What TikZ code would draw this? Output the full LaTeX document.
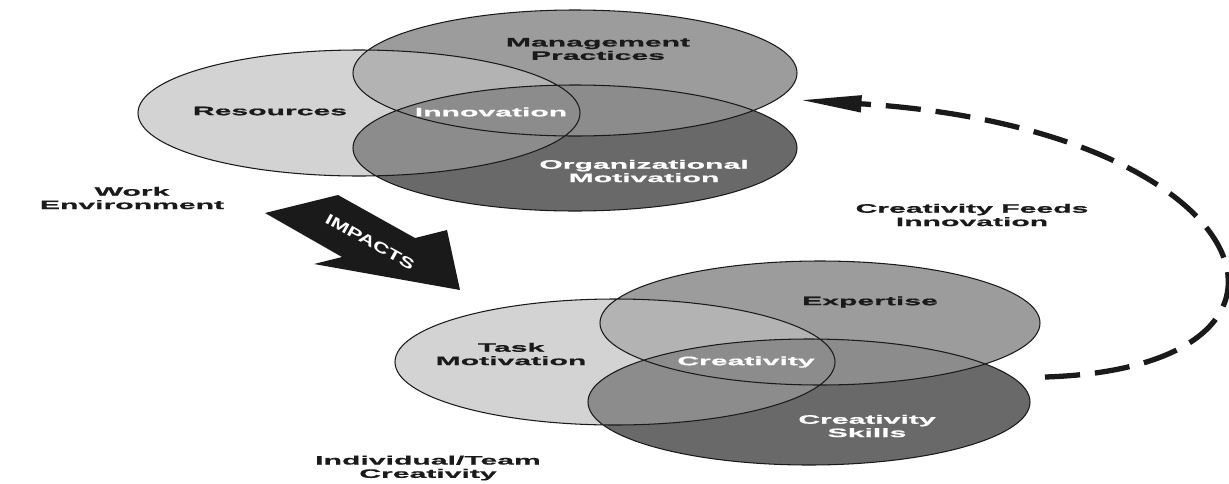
\documentclass[tikz,border=0pt]{standalone}
\usepackage{fontspec}
\usetikzlibrary{arrows.meta}
\newfontfamily\vennfont[FakeStretch=2.45,FakeBold=0.8]{Liberation Sans}
\newfontfamily\arrowfont[FakeStretch=1.5]{Liberation Sans}
\definecolor{ink}{HTML}{1A1A1A}
\definecolor{paleshade}{HTML}{D3D3D3}
\definecolor{lapshade}{HTML}{B3B3B3}
\definecolor{midshade}{HTML}{9C9C9C}
\definecolor{mixshade}{HTML}{8C8C8C}
\definecolor{darkshade}{HTML}{696969}

% top group: work environment
\newcommand{\resarea}{(7.18,-2.26) ellipse [x radius=4.42, y radius=1.26]}
\newcommand{\mgmtarea}{(11.50,-1.46) ellipse [x radius=4.44, y radius=1.26]}
\newcommand{\orgarea}{(11.50,-2.96) ellipse [x radius=4.44, y radius=1.26]}
% bottom group: individual/team creativity
\newcommand{\taskarea}{(12.30,-7.24) ellipse [x radius=4.40, y radius=1.26]}
\newcommand{\expertarea}{(16.40,-6.46) ellipse [x radius=4.40, y radius=1.24]}
\newcommand{\skillarea}{(16.18,-8.04) ellipse [x radius=4.42, y radius=1.26]}

\begin{document}
\begin{tikzpicture}[
    rim/.style={draw=ink, line width=0.6pt},
    lbl/.style={font=\vennfont\bfseries\fontsize{7}{7.6}\selectfont, align=center, inner sep=0pt, text=ink},
    inv/.style={lbl, text=white},
    feed/.style={draw=ink, line width=3pt, dash pattern=on 20pt off 8.5pt,
                 -{Triangle[length=35pt,width=9pt]}}]
  \path[use as bounding box, fill=white] (0,0) rectangle (24.58,-9.66);

  % work environment
  \fill[paleshade] \resarea;
  \fill[midshade] \mgmtarea;
  \fill[darkshade] \orgarea;
  \begin{scope}
    \clip \resarea;
    \fill[lapshade] \mgmtarea;
  \end{scope}
  \begin{scope}
    \clip \orgarea;
    \fill[mixshade] \mgmtarea;
    \fill[mixshade] \resarea;
  \end{scope}
  \draw[rim] \resarea \mgmtarea \orgarea;

  % individual/team creativity
  \fill[paleshade] \taskarea;
  \fill[midshade] \expertarea;
  \fill[darkshade] \skillarea;
  \begin{scope}
    \clip \taskarea;
    \fill[lapshade] \expertarea;
  \end{scope}
  \begin{scope}
    \clip \skillarea;
    \fill[mixshade] \expertarea;
    \fill[mixshade] \taskarea;
  \end{scope}
  \draw[rim] \taskarea \expertarea \skillarea;

  \node[lbl] (mgmt) at (11.96,-0.98) {Management\\Practices};
  \node[lbl] (res) at (5.40,-2.22) {Resources};
  \node[inv] (innov) at (9.82,-2.24) {Innovation};
  \node[inv] (orgmot) at (12.88,-3.42) {Organizational\\Motivation};
  \node[lbl] (workenv) at (2.64,-3.96) {Work\\Environment};

  \node[lbl] (expert) at (17.40,-6.04) {Expertise};
  \node[lbl] (taskmot) at (10.22,-7.08) {Task\\Motivation};
  \node[inv] (creat) at (14.92,-7.24) {Creativity};
  \node[inv] (skills) at (17.34,-8.52) {Creativity\\Skills};
  \node[lbl] (indteam) at (8.56,-9.36) {Individual/Team\\Creativity};

  % block arrow
  \fill[ink] (5.30,-4.26) -- (6.76,-3.90) -- (8.30,-4.76) -- (8.94,-4.60)
    -- (9.20,-5.80) -- (6.28,-5.28) -- (6.84,-5.14) -- cycle;
  \node[font=\arrowfont\bfseries\fontsize{8.5}{8.5}\selectfont, text=white, inner sep=0pt,
        rotate=-29] (impacts) at (7.40,-4.84) {IMPACTS};

  % feedback loop
  \coordinate (feedfrom) at (20.90,-7.54);
  \coordinate (feedto) at (16.00,-2.00);
  \draw[feed] (feedfrom) .. controls (27.00,-7.35) and (25.30,-2.58) .. (feedto);
  \node[lbl] (feeds) at (19.44,-4.30) {Creativity Feeds\\Innovation};
\end{tikzpicture}
\end{document}
